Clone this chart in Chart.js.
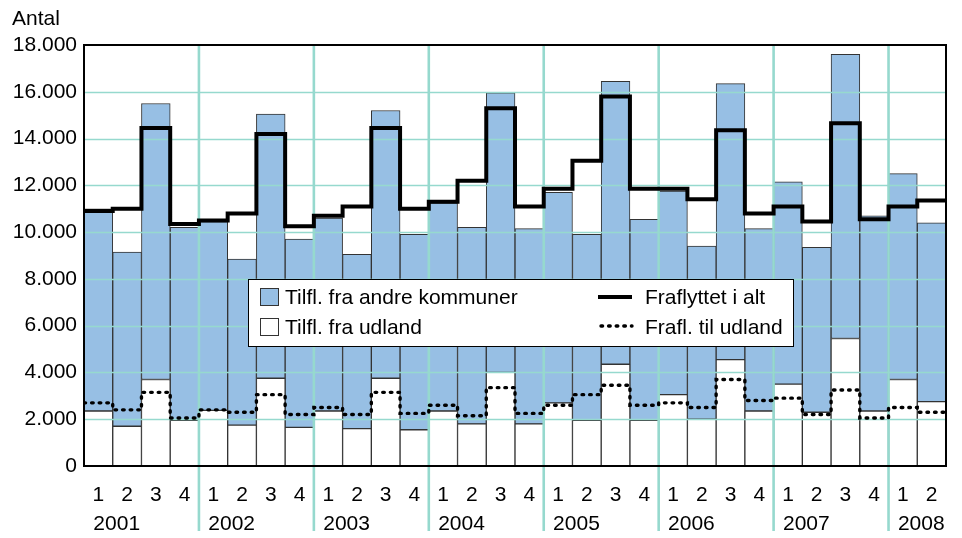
<!DOCTYPE html>
<html>
<head>
<meta charset="utf-8">
<script src="https://cdn.jsdelivr.net/npm/chart.js@4"></script>
<style>
  html, body { margin: 0; padding: 0; background: #fff; }
  #wrap { position: relative; width: 962px; height: 538px; }
</style>
</head>
<body>
<div id="wrap"><canvas id="c" width="962" height="538"></canvas></div>
<script>
// ---- Data ----
const quarterLabels = ['1','2','3','4','1','2','3','4','1','2','3','4','1','2','3','4',
                       '1','2','3','4','1','2','3','4','1','2','3','4','1','2'];
const yearLabels = ['2001','2002','2003','2004','2005','2006','2007','2008'];
const yTicks = [0, 2000, 4000, 6000, 8000, 10000, 12000, 14000, 16000, 18000];

// Tilfl. fra udland (white, bottom of stack)
const tilflUdland = [2350,1700,3700,1950, 2380,1750,3750,1650, 2350,1600,3750,1550,
                     2350,1800,4000,1800, 2700,1950,4350,1950, 3050,2000,4550,2350,
                     3500,2300,5450,2350, 3700,2750];
// Tilfl. fra andre kommuner (blue, stacked on top)
const tilflAndre = [8650,7450,11800,8250, 8070,7100,11300,8050, 8250,7450,11450,8350,
                    8900,8400,11950,8350, 9000,7950,12100,8600, 8700,7400,11800,7800,
                    8650,7050,12150,8350, 8800,7650];
// Fraflyttet i alt (solid stepped line)
const fraflAlt = [10900,11000,14450,10350, 10500,10800,14200,10250, 10700,11100,14450,11000,
                  11300,12200,15300,11100, 11850,13050,15800,11850, 11850,11400,14350,10800,
                  11100,10450,14650,10550, 11100,11350];
// Frafl. til udland (dotted stepped line)
const fraflUdland = [2700,2400,3150,2050, 2400,2300,3050,2200, 2500,2200,3150,2250,
                     2600,2150,3350,2250, 2600,3050,3450,2600, 2700,2500,3700,2800,
                     2900,2200,3250,2050, 2500,2300];

const seriesNames = {
  andre: 'Tilfl. fra andre kommuner',
  udland: 'Tilfl. fra udland',
  alt: 'Fraflyttet i alt',
  fraUd: 'Frafl. til udland'
};

const FONT = "'Liberation Sans', Arial, Helvetica, sans-serif";
const TEAL = 'rgb(150,217,206)';
const BLUE = 'rgb(151,191,228)';

function stepPoints(values) {
  const pts = values.map((v, i) => ({ x: i - 0.5, y: v }));
  pts.push({ x: values.length - 0.5, y: values[values.length - 1] });
  return pts;
}
function fmt(v) { return String(v).replace(/\B(?=(\d{3})+(?!\d))/g, '.'); }

Chart.defaults.font.family = FONT;
Chart.defaults.color = '#000';

const decor = {
  id: 'decor',
  beforeDraw(chart) { chart.$gridDone = false; },
  beforeDatasetDraw(chart, args) {
    if (chart.$gridDone || args.meta.type !== 'line') return;
    chart.$gridDone = true;
    const ctx = chart.ctx, a = chart.chartArea, y = chart.scales.y, x = chart.scales.x;
    ctx.save();
    ctx.strokeStyle = TEAL;
    ctx.lineWidth = 1.6;
    yTicks.forEach(t => {
      if (t === 0 || t === 18000) return;
      const py = Math.round(y.getPixelForValue(t)) + 0.5;
      ctx.beginPath(); ctx.moveTo(a.left, py); ctx.lineTo(a.right, py); ctx.stroke();
    });
    ctx.lineWidth = 2.6;
    for (let i = 4; i < quarterLabels.length; i += 4) {
      const px = (x.getPixelForValue(i - 1) + x.getPixelForValue(i)) / 2;
      ctx.beginPath(); ctx.moveTo(px, a.top); ctx.lineTo(px, 531); ctx.stroke();
    }
    ctx.restore();
  },
  afterDatasetsDraw(chart) {
    const ctx = chart.ctx, a = chart.chartArea, x = chart.scales.x;
    ctx.save();
    // frame
    ctx.strokeStyle = '#000';
    ctx.lineWidth = 2;
    ctx.strokeRect(a.left, a.top, a.right - a.left, a.bottom - a.top);
    // year labels
    ctx.fillStyle = '#000';
    ctx.font = '21px ' + FONT;
    ctx.textBaseline = 'middle';
    ctx.textAlign = 'left';
    yearLabels.forEach((yr, k) => {
      const px = x.getPixelForValue(k * 4);
      ctx.fillText(yr, px - 5, 524);
    });
    // "Antal"
    ctx.fillText('Antal', 12, 19);
    // legend box
    const lx = a.left + 164, ly = a.top + 234, lw = 545, lh = 67;
    ctx.fillStyle = '#fff';
    ctx.fillRect(lx, ly, lw, lh);
    ctx.lineWidth = 1;
    ctx.strokeStyle = '#000';
    ctx.strokeRect(lx + 0.5, ly + 0.5, lw, lh);
    const r1 = ly + 18, r2 = ly + 48;
    ctx.fillStyle = BLUE;
    ctx.fillRect(lx + 12, r1 - 9, 19, 18);
    ctx.strokeStyle = '#333';
    ctx.strokeRect(lx + 12.5, r1 - 8.5, 18, 17);
    ctx.fillStyle = '#fff';
    ctx.fillRect(lx + 12, r2 - 9, 19, 18);
    ctx.strokeRect(lx + 12.5, r2 - 8.5, 18, 17);
    ctx.fillStyle = '#000';
    ctx.fillText(seriesNames.andre, lx + 37, r1 + 1);
    ctx.fillText(seriesNames.udland, lx + 37, r2 + 1);
    ctx.strokeStyle = '#000';
    ctx.lineWidth = 4;
    ctx.beginPath(); ctx.moveTo(lx + 350, r1); ctx.lineTo(lx + 384, r1); ctx.stroke();
    ctx.lineWidth = 3.4;
    ctx.lineCap = 'round';
    ctx.setLineDash([1.6, 6]);
    ctx.beginPath(); ctx.moveTo(lx + 353, r2 - 1); ctx.lineTo(lx + 384, r2 - 1); ctx.stroke();
    ctx.setLineDash([]);
    ctx.lineCap = 'butt';
    ctx.fillText(seriesNames.alt, lx + 397, r1 + 1);
    ctx.fillText(seriesNames.fraUd, lx + 397, r2 + 1);
    ctx.restore();
  }
};

new Chart(document.getElementById('c'), {
  data: {
    labels: quarterLabels,
    datasets: [
      {
        type: 'bar', label: seriesNames.udland, data: tilflUdland, stack: 'bars', order: 2,
        xAxisID: 'x', yAxisID: 'y', grouped: false,
        backgroundColor: '#fff', borderColor: '#333', borderWidth: 1,
        borderSkipped: false, barPercentage: 1, categoryPercentage: 1
      },
      {
        type: 'bar', label: seriesNames.andre, data: tilflAndre, stack: 'bars', order: 2,
        xAxisID: 'x', yAxisID: 'y', grouped: false,
        backgroundColor: BLUE, borderColor: '#333', borderWidth: 1,
        borderSkipped: false, barPercentage: 1, categoryPercentage: 1
      },
      {
        type: 'line', label: seriesNames.alt, data: stepPoints(fraflAlt), order: 1,
        xAxisID: 'x2', yAxisID: 'y2', stepped: 'before', borderColor: '#000', borderWidth: 4,
        pointRadius: 0, fill: false, borderJoinStyle: 'miter'
      },
      {
        type: 'line', label: seriesNames.fraUd, data: stepPoints(fraflUdland), order: 1,
        xAxisID: 'x2', yAxisID: 'y2', stepped: 'before', borderColor: '#000', borderWidth: 3.4,
        borderDash: [1.6, 6], borderCapStyle: 'round', pointRadius: 0, fill: false
      }
    ]
  },
  options: {
    responsive: false,
    animation: false,
    devicePixelRatio: 1,
    layout: { padding: { top: 45, right: 16, left: 0, bottom: 0 } },
    plugins: { legend: { display: false }, tooltip: { enabled: false } },
    scales: {
      x: {
        type: 'category', offset: true, stacked: true,
        grid: { display: false, drawTicks: false }, border: { display: false },
        ticks: { font: { size: 21 }, color: '#000', padding: 17, maxRotation: 0, autoSkip: false },
        afterFit(s) { s.height = 72; }
      },
      x2: { type: 'linear', display: false, min: -0.5, max: quarterLabels.length - 0.5 },
      y: {
        type: 'linear', stacked: true, min: 0, max: 18000,
        grid: { display: false, drawTicks: false }, border: { display: false },
        afterBuildTicks(s) { s.ticks = yTicks.map(v => ({ value: v })); },
        ticks: { font: { size: 21 }, color: '#000', padding: 7, callback: v => fmt(v) },
        afterFit(s) { s.width = 84; }
      },
      y2: { type: 'linear', display: false, min: 0, max: 18000 }
    }
  },
  plugins: [decor]
});
</script>
</body>
</html>
